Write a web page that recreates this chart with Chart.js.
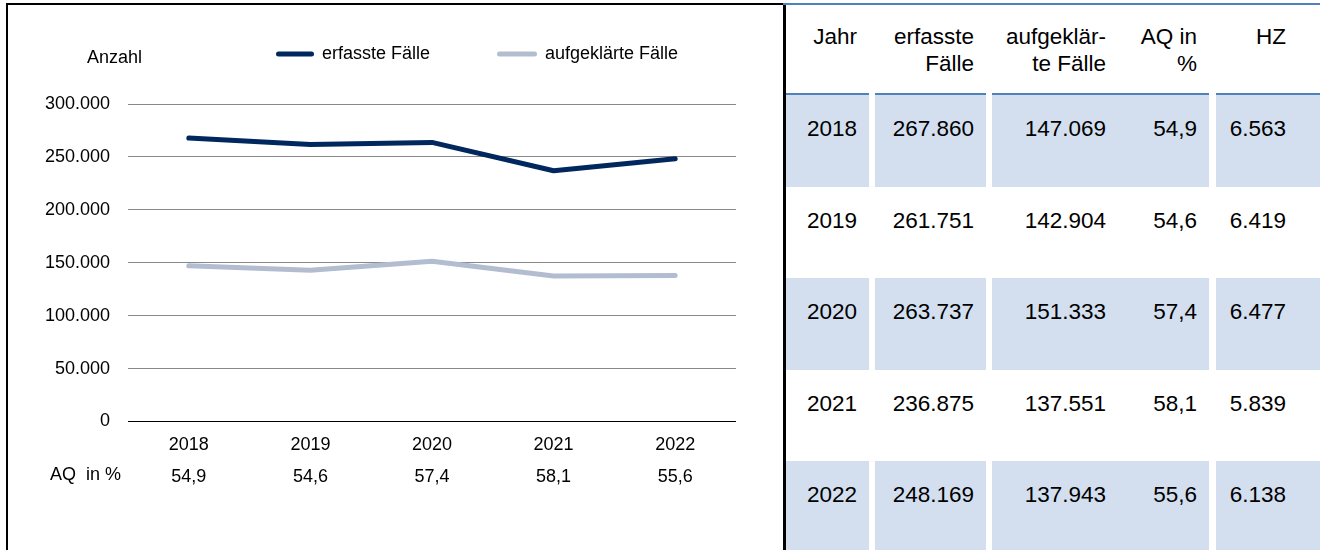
<!DOCTYPE html>
<html lang="de">
<head>
    <meta charset="UTF-8">
    <title>Erfasste und aufgeklärte Fälle 2018-2022</title>
    <script src="https://cdn.jsdelivr.net/npm/chart.js"></script>
    <style>
        body { margin: 0; width: 1320px; height: 550px; overflow: hidden; position: relative; background: #fff;
               font-family: "Liberation Sans", Arial, sans-serif; color: #000; }
        #chartBox { position: absolute; left: 6px; top: 3px; width: 775px; height: 545px;
                    border-left: 2px solid #000; border-top: 2px solid #000; border-right: 3px solid #000; }
        #topLine { position: absolute; left: 783px; top: 3px; width: 537px; height: 2px; background: #4f81bd; }
        #dataTable { position: absolute; left: 786px; top: 5px; width: 534px; table-layout: fixed;
                     border-collapse: separate; border-spacing: 0; font-size: 22.5px; line-height: 27px; }
        #dataTable td, #dataTable th { box-sizing: border-box; padding: 20px 12px 0 0; text-align: right;
                     vertical-align: top; font-weight: normal; white-space: nowrap; }
        #dataTable th { height: 90px; padding-top: 18px; border-bottom: 2px solid #4f81bd; }
        #dataTable th.gap { border-bottom: none; }
        #dataTable td.gap, #dataTable th.gap { padding: 0; background: #fff; }
        #dataTable tr.shade td { background: #d3dfef; }
        #dataTable tr.shade td.gap { background: #fff; }
    </style>
</head>
<body>
    <div id="chartBox">
        <canvas id="faelleChart" width="775" height="545"></canvas>
    </div>
    <div id="topLine"></div>
    <table id="dataTable">
        <colgroup>
            <col style="width:83px"><col style="width:6px"><col style="width:111px"><col style="width:6px">
            <col style="width:130px"><col style="width:87px"><col style="width:7px"><col style="width:104px">
        </colgroup>
        <thead>
            <tr>
                <th>Jahr</th><th class="gap"></th>
                <th>erfasste<br>Fälle</th><th class="gap"></th>
                <th style="padding-right:16px">aufgeklär-<br>te Fälle</th>
                <th>AQ in<br>%</th><th class="gap"></th>
                <th style="padding-right:34px">HZ</th>
            </tr>
        </thead>
        <tbody id="tableBody"></tbody>
    </table>

    <script>
        // Daten
        const years = ['2018', '2019', '2020', '2021', '2022'];
        const erfassteFaelle = [267860, 261751, 263737, 236875, 248169];
        const aufgeklaerteFaelle = [147069, 142904, 151333, 137551, 137943];
        const aqProzent = [54.9, 54.6, 57.4, 58.1, 55.6];
        const haeufigkeitszahl = [6563, 6419, 6477, 5839, 6138];
        const seriesLabels = ['erfasste Fälle', 'aufgeklärte Fälle'];
        const yMin = 0;
        const yMax = 300000;
        const yStep = 50000;

        const FONT = '"Liberation Sans", Arial, sans-serif';

        // deutsche Zahlenformate
        function fmtInt(n) {
            return String(n).replace(/\B(?=(\d{3})+(?!\d))/g, '.');
        }
        function fmtDec(n) {
            return n.toFixed(1).replace('.', ',');
        }

        // Tabelle rechts
        const tbody = document.getElementById('tableBody');
        const rowHeights = [92, 91, 92, 91, 91];
        years.forEach((year, i) => {
            const tr = document.createElement('tr');
            if (i % 2 === 0) tr.className = 'shade';
            tr.style.height = rowHeights[i] + 'px';
            tr.innerHTML = `
                <td>${year}</td><td class="gap"></td>
                <td>${fmtInt(erfassteFaelle[i])}</td><td class="gap"></td>
                <td style="padding-right:16px">${fmtInt(aufgeklaerteFaelle[i])}</td>
                <td>${fmtDec(aqProzent[i])}</td><td class="gap"></td>
                <td style="padding-right:34px">${fmtInt(haeufigkeitszahl[i])}</td>`;
            tbody.appendChild(tr);
        });

        // Legende, "Anzahl" und "AQ in %" direkt auf den Canvas
        const extraText = {
            id: 'extraText',
            afterDraw(chart) {
                const ctx = chart.ctx;
                ctx.save();
                ctx.font = '18px ' + FONT;
                ctx.fillStyle = '#000';
                ctx.textBaseline = 'middle';
                ctx.textAlign = 'left';
                ctx.fillText('Anzahl', 79, 53);
                ctx.fillText('AQ  in %', 42, 470);

                const marks = [{ x: 268, w: 38 }, { x: 489, w: 40 }];
                chart.data.datasets.forEach((ds, i) => {
                    const m = marks[i];
                    ctx.strokeStyle = ds.borderColor;
                    ctx.lineWidth = 5;
                    ctx.lineCap = 'round';
                    ctx.beginPath();
                    ctx.moveTo(m.x + 2.5, 49);
                    ctx.lineTo(m.x + m.w - 2.5, 49);
                    ctx.stroke();
                    ctx.fillText(ds.label, m.x + m.w + 8, 49);
                });
                ctx.restore();
            }
        };

        new Chart(document.getElementById('faelleChart'), {
            type: 'line',
            data: {
                labels: years,
                datasets: [{
                    label: seriesLabels[0],
                    data: erfassteFaelle,
                    borderColor: '#00285f',
                    borderWidth: 5,
                    pointRadius: 0,
                    tension: 0,
                    borderCapStyle: 'round',
                    borderJoinStyle: 'round'
                }, {
                    label: seriesLabels[1],
                    data: aufgeklaerteFaelle,
                    borderColor: '#b3bdd0',
                    borderWidth: 5,
                    pointRadius: 0,
                    tension: 0,
                    borderCapStyle: 'round',
                    borderJoinStyle: 'round'
                }]
            },
            options: {
                responsive: false,
                animation: false,
                layout: { padding: { top: 99, right: 47, left: 0, bottom: 0 } },
                plugins: {
                    legend: { display: false },
                    tooltip: { enabled: false }
                },
                scales: {
                    x: {
                        offset: true,
                        grid: { display: false },
                        border: { display: false },
                        ticks: {
                            color: '#000',
                            font: { family: FONT, size: 18, lineHeight: 32 / 18 },
                            padding: 0,
                            maxRotation: 0,
                            autoSkip: false,
                            callback: (v, i) => [years[i], fmtDec(aqProzent[i])]
                        },
                        afterFit: s => { s.height = 128.5; }
                    },
                    y: {
                        min: yMin,
                        max: yMax,
                        border: { display: false },
                        grid: {
                            drawTicks: false,
                            lineWidth: 1,
                            color: c => (c.tick && c.tick.value === 0 ? '#000' : '#898989')
                        },
                        ticks: {
                            stepSize: yStep,
                            color: '#000',
                            font: { family: FONT, size: 18 },
                            padding: 18,
                            callback: v => fmtInt(v)
                        },
                        afterFit: s => { s.width = 120; }
                    }
                }
            },
            plugins: [extraText]
        });
    </script>
</body>
</html>
